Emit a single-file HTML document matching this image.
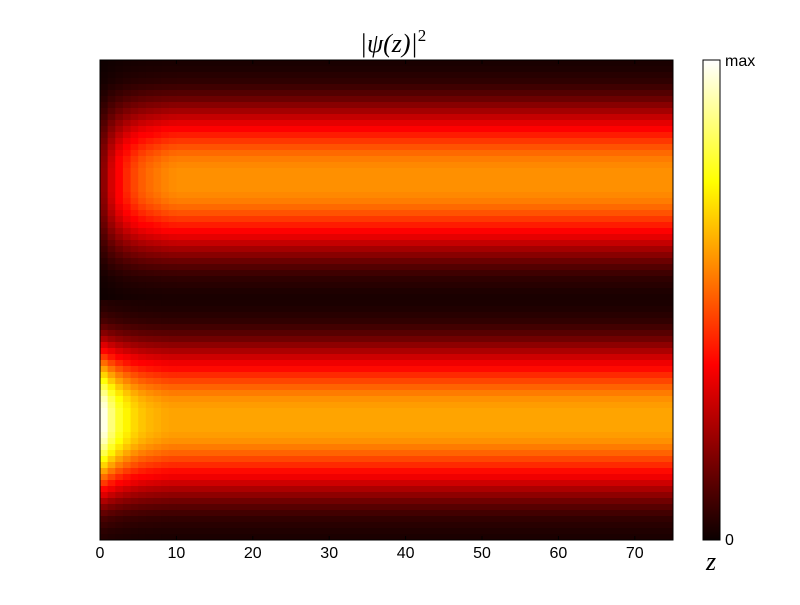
<!DOCTYPE html>
<html><head><meta charset="utf-8">
<style>
body{margin:0;background:#fff;}
.sans{font-family:"Liberation Sans",sans-serif;}
.serif{font-family:"Liberation Serif",serif;font-style:italic;}
</style></head>
<body>
<svg id="chart" width="800" height="600" xmlns="http://www.w3.org/2000/svg">
<rect width="800" height="600" fill="#fff"/>
<g id="cells"></g>
<rect x="100" y="60" width="573" height="480" fill="none" stroke="#000" stroke-width="1"/>
<g id="ticks"></g>
<text class="serif" x="393" y="52" text-anchor="middle" font-size="26">|ψ(z)|<tspan font-size="17" dy="-11" style="font-style:normal">2</tspan></text>
<text class="serif" x="711" y="570" text-anchor="middle" font-size="26">z</text>
<defs><linearGradient id="hot" x1="0" y1="1" x2="0" y2="0">
<stop offset="0" stop-color="#0b0000"/><stop offset="0.365" stop-color="#ff0000"/><stop offset="0.746" stop-color="#ffff00"/><stop offset="1" stop-color="#ffffff"/>
</linearGradient></defs>
<rect x="703" y="60" width="17" height="480" fill="url(#hot)" stroke="#000" stroke-width="1"/>
<text class="sans" x="725" y="66" font-size="16">max</text>
<text class="sans" x="725" y="545" font-size="16">0</text>
</svg>
<script>
const xTicks=[0,10,20,30,40,50,60,70];
const profile=[0.04,0.05,0.07,0.09,0.13,0.18,0.24,0.31,0.38,0.46,0.54,0.62,0.70,0.77,0.84,0.90,0.95,0.98,1.0,1.0,1.0,1.0,0.98,0.95,0.90,0.84,0.77,0.70,0.62,0.54,0.46,0.38,0.31,0.24,0.18,0.13,0.09,0.07,0.05,0.04];
const bandAmp=[0.58,0.61];
const topTransient=[0.33,0.5,0.63,0.73,0.81,0.87,0.91,0.94,0.97,0.99];
const botTransient=[1.6,1.42,1.29,1.2,1.13,1.08,1.05,1.03,1.01,1.0];
const X0=100,X1=673,Y0=60,Y1=540,XMAX=75;
const sx=v=>X0+(X1-X0)*v/XMAX;
const nRows=profile.length*2;
const sy=i=>Y0+(Y1-Y0)*i/nRows;
function hot(v){v=Math.max(0,Math.min(1,v));
 const r=Math.min(1,0.04+v/0.365),g=Math.max(0,Math.min(1,(v-0.365)/0.381)),b=Math.max(0,Math.min(1,(v-0.746)/0.254));
 return `rgb(${Math.round(Math.min(1,r)*255)},${Math.round(g*255)},${Math.round(b*255)})`;}
const NS="http://www.w3.org/2000/svg";
const cells=document.getElementById('cells');
for(let h=0;h<2;h++){
 const tr=h===0?topTransient:botTransient;
 for(let k=0;k<profile.length;k++){
  const row=h*profile.length+k;
  for(let c=0;c<=tr.length;c++){
   const x0=c, x1=c<tr.length?c+1:XMAX;
   const f=c<tr.length?tr[c]:1;
   const el=document.createElementNS(NS,'rect');
   
   
   el.setAttribute('x',sx(x0));el.setAttribute('y',sy(row));
   el.setAttribute('width',sx(x1)-sx(x0)+0.5);el.setAttribute('height',sy(row+1)-sy(row)+0.5);
   el.setAttribute('fill',hot(profile[k]*bandAmp[h]*f));
   cells.appendChild(el);
  }
 }
}
const tg=document.getElementById('ticks');
xTicks.forEach(t=>{
 const x=sx(t);
 [[Y1,Y1-4],[Y0,Y0+4]].forEach(([a,b])=>{
  const l=document.createElementNS(NS,'line');
  
  
  l.setAttribute('x1',x);l.setAttribute('x2',x);l.setAttribute('y1',a);l.setAttribute('y2',b);l.setAttribute('stroke','#000');
  tg.appendChild(l);});
 const tx=document.createElementNS(NS,'text');
 
 
 tx.setAttribute('class','sans');
 tx.setAttribute('x',x);tx.setAttribute('y',558);tx.setAttribute('text-anchor','middle');tx.setAttribute('font-size','16');
 tx.textContent=t;tg.appendChild(tx);
});
</script>
</body></html>
